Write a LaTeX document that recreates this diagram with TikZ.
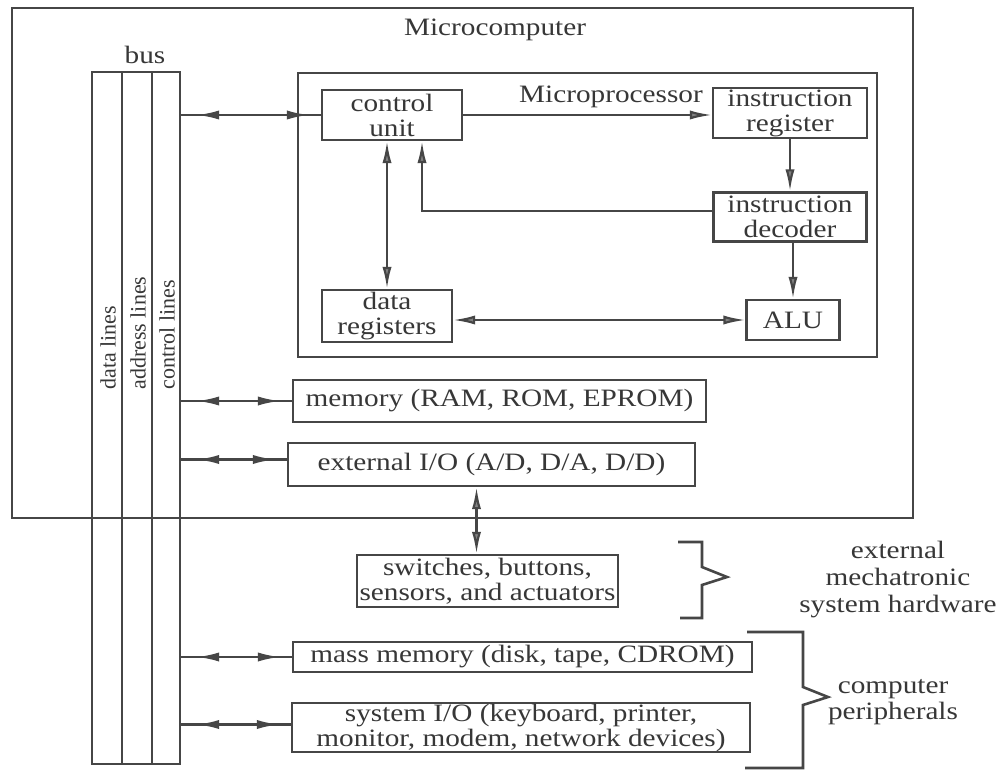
\documentclass[tikz,border=0pt]{standalone}
\usepackage{fontspec}
\setmainfont{Liberation Serif}[FakeStretch=1.17]
\newfontfamily\busfont{Liberation Serif}
\usetikzlibrary{arrows.meta,calc,decorations.markings}
\definecolor{ink}{RGB}{70,70,70}
\definecolor{tipfill}{RGB}{130,130,130}
\definecolor{txt}{RGB}{55,55,55}
\tikzset{
  tipA/.tip={Latex[length=11pt,width=4.6pt]},
}
\begin{document}
\begin{tikzpicture}[x=0.5pt,y=-0.5pt,
  font=\fontsize{12.5pt}{12.5pt}\selectfont, text=txt,
  sz/.style 2 args={minimum width=#1*0.5pt, minimum height=#2*0.5pt},
  frame/.style={draw=ink, line width=1.4pt, inner sep=0pt},
  box/.style={draw=ink, line width=1.2pt, inner sep=0pt, align=center},
  buslane/.style={draw=ink, line width=1.2pt, inner sep=0pt},
  buslabel/.style={font=\busfont\fontsize{11pt}{11pt}\selectfont, rotate=90, anchor=west, inner sep=0pt},
  con/.style={draw=ink, line width=1.1pt, fill=none},
  arr/.style={con, -{tipA[fill=tipfill]}},
  biarr/.style={con, {tipA[fill=tipfill]}-{tipA[fill=tipfill]}},
  busarrow/.style={con, postaction={decorate}, decoration={markings,
     mark=at position 8pt with {\arrowreversed[fill=tipfill, draw=ink]{tipA}},
     mark=at position -6pt with {\arrow[fill=tipfill, draw=ink]{tipA}}}},
  brace/.style={draw=ink, line width=1.3pt},
]
\useasboundingbox (0,0) rectangle (1000,775);
\fill[white] (0,0) rectangle (1000,775);

% containers
\node[frame, sz={901}{510}] (mc) at (462.5,263) {};
\node (mct) at (495,30) {Microcomputer};
\node[frame, sz={579}{284}] (mp) at (587.5,215) {};
\node (mpt) at (611,97) {Microprocessor};

% bus
\node (bust) at (145,55) {bus};
\node[buslane, sz={30}{692}] (busD) at (107,418) {};
\node[buslane, sz={30}{692}] (busA) at (137,418) {};
\node[buslane, sz={28}{692}] (busC) at (166,418) {};
\node[buslabel] (dl) at (108,390) {data lines};
\node[buslabel] (al) at (138,390) {address lines};
\node[buslabel] (cl) at (167,390) {control lines};

% microprocessor blocks
\node[box, sz={140}{50}] (cu) at (392,115) {control\\unit};
\node[box, sz={154}{50}] (ir) at (790,113) {instruction\\register};
\node[box, sz={153}{49}] (id) at (790,217) {instruction\\decoder};
\node[box, sz={93}{40}] (alu) at (793,320) {ALU};
\node[box, sz={130}{52}] (dr) at (387,316) {data\\registers};

% other blocks
\node[box, sz={413}{42}] (mem) at (499.5,401) {memory (RAM, ROM, EPROM)};
\node[box, sz={407}{43}] (eio) at (491.5,464.5) {external I/O (A/D, D/A, D/D)};
\node[box, sz={261}{52}] (sw) at (487.5,581) {switches, buttons,\\sensors, and actuators};
\node[box, sz={459}{30}] (mass) at (522.5,657) {mass memory (disk, tape, CDROM)};
\node[box, sz={458}{49}] (sio) at (521,727.5) {system I/O (keyboard, printer,\\monitor, modem, network devices)};

% side labels
\node[align=center, font=\fontsize{12.5pt}{13.5pt}\selectfont] (emh) at (898,580) {external\\mechatronic\\system hardware};
\node[align=center, font=\fontsize{12.5pt}{13pt}\selectfont] (cp) at (893,702) {computer\\peripherals};

% bus connectors
\draw[busarrow] (busC.east |- cu.west) -- (cu.west);
\draw[busarrow] (busC.east |- mem.west) -- (mem.west);
\coordinate (eiow) at ($(eio.west)+(0,-5)$);
\draw[busarrow] (busC.east |- eiow) -- (eiow);
\draw[busarrow] (busC.east |- mass.west) -- (mass.west);
\coordinate (siow) at ($(sio.west)+(0,-3)$);
\draw[busarrow] (busC.east |- siow) -- (siow);

% internal connectors
\draw[arr] (cu.east) -- (cu.east -| ir.west);
\draw[arr] (ir.south) -- (id.north);
\draw[arr] ($(id.west)+(0,-6)$) -| ($(cu.south)+(30,0)$);
\draw[biarr] (dr.north |- cu.south) -- (dr.north);
\draw[arr] (alu.north |- id.south) -- (alu.north);
\draw[biarr] (dr.east |- alu.west) -- (alu.west);
\coordinate (swt) at ($(sw.north)+(-11,0)$);
\draw[biarr] (swt |- eio.south) -- (swt);

% braces
\draw[brace] (678,542) -- (702,542) -- (702,567) -- (727,577) -- (702,585) -- (702,618) -- (680,618);
\draw[brace] (747,632) -- (803,632) -- (803,687) -- (828,697) -- (803,705) -- (803,768) -- (745,768);
\end{tikzpicture}
\end{document}
